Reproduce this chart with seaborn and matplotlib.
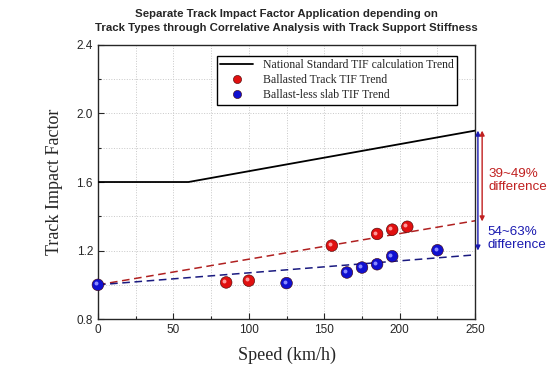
"""
Track impact factor vs speed: national standard vs ballasted / ballast-less
"""
import matplotlib
matplotlib.use('Agg')
import matplotlib.pyplot as plt
import pandas as pd
import seaborn as sns
from matplotlib.ticker import MultipleLocator

plt_colors = {'Ballasted Track TIF Trend': '#e01010',
              'Ballast-less slab TIF Trend': '#1010d0'}

# national standard TIF line
std_speed = [0, 60, 250]
std_tif = [1.6, 1.6, 1.9]

# measured points
ballasted_speed = [85, 100, 155, 185, 195, 205]
ballasted_tif = [1.014, 1.024, 1.229, 1.297, 1.322, 1.339]
slab_speed = [0, 125, 165, 175, 185, 195, 225]
slab_tif = [1.0, 1.01, 1.072, 1.101, 1.12, 1.167, 1.202]

# dashed trend lines
trend_speed = [0, 250]
ballasted_trend = [1.0, 1.374]
slab_trend = [1.0, 1.175]

pts = pd.concat([
    pd.DataFrame({'speed': ballasted_speed, 'tif': ballasted_tif,
                  'track': 'Ballasted Track TIF Trend'}),
    pd.DataFrame({'speed': slab_speed, 'tif': slab_tif,
                  'track': 'Ballast-less slab TIF Trend'}),
])

sns.set_style('ticks')
plt.rcParams['font.family'] = ['Liberation Sans', 'DejaVu Sans']

fig = plt.figure(figsize=(5.5, 3.84), dpi=100)
ax = fig.add_axes([0.178, 0.169, 0.686, 0.714])

sns.lineplot(x=trend_speed, y=ballasted_trend, color='#b02020', lw=1.1,
             linestyle=(0, (5, 3)), ax=ax, zorder=2)
sns.lineplot(x=trend_speed, y=slab_trend, color='#1a1a80', lw=1.1,
             linestyle=(0, (5, 3)), ax=ax, zorder=2)
sns.lineplot(x=std_speed, y=std_tif, color='black', lw=1.3, ax=ax,
             label='National Standard TIF calculation Trend', zorder=3)
sns.scatterplot(pts, x='speed', y='tif', hue='track', palette=plt_colors,
                s=70, edgecolor='#400000', linewidth=0.4, ax=ax, zorder=4,
                clip_on=False)
# highlight to fake the shaded spheres
ax.scatter([x - 1.2 for x in ballasted_speed], [y + 0.008 for y in ballasted_tif],
           s=8, color='#ff9a9a', linewidth=0, zorder=5)
ax.scatter([x - 1.2 for x in slab_speed], [y + 0.008 for y in slab_tif],
           s=8, color='#8a8aff', linewidth=0, zorder=5, clip_on=False)

ax.set_xlim(0, 250)
ax.set_ylim(0.8, 2.4)
ax.xaxis.set_major_locator(MultipleLocator(50))
ax.xaxis.set_minor_locator(MultipleLocator(25))
ax.yaxis.set_major_locator(MultipleLocator(0.4))
ax.yaxis.set_minor_locator(MultipleLocator(0.2))
ax.tick_params(which='both', direction='in', labelsize=8.5, width=0.8)
ax.tick_params(which='major', length=4)
ax.tick_params(which='minor', length=2.5)
ax.grid(which='both', color='#c8c8c8', linestyle=':', linewidth=0.7)
ax.set_axisbelow(True)
for s in ax.spines.values():
    s.set_linewidth(1.0)

ax.set_xlabel('Speed (km/h)', family='Liberation Serif', fontsize=13, labelpad=8)
ax.set_ylabel('Track Impact Factor', family='Liberation Serif', fontsize=13,
              labelpad=10)
ax.set_title('Separate Track Impact Factor Application depending on\n'
             'Track Types through Correlative Analysis with Track Support Stiffness',
             fontsize=8.2, fontweight='bold', pad=10, linespacing=1.45)

leg = ax.legend(loc='upper left', bbox_to_anchor=(0.315, 0.96),
                prop={'family': 'Liberation Serif', 'size': 8.5},
                frameon=True, fancybox=False, edgecolor='black',
                borderpad=0.3, labelspacing=0.25, handlelength=2.8,
                borderaxespad=0, markerscale=0.7)
leg.get_frame().set_linewidth(1.0)
leg.get_frame().set_alpha(1)

# difference arrows outside the axes
ax.annotate('', xy=(251.8, 1.2), xytext=(251.8, 1.9),
            arrowprops=dict(arrowstyle='<|-|>', color='#1a1ab0', lw=1.0,
                            mutation_scale=7, shrinkA=0, shrinkB=0),
            annotation_clip=False)
ax.annotate('', xy=(254.6, 1.37), xytext=(254.6, 1.9),
            arrowprops=dict(arrowstyle='<|-|>', color='#c02020', lw=1.0,
                            mutation_scale=7, shrinkA=0, shrinkB=0),
            annotation_clip=False)
ax.text(259, 1.61, '39~49%\ndifference', color='#c02020', fontsize=9.6,
        va='center', ha='left', linespacing=1.15, clip_on=False)
ax.text(258, 1.27, '54~63%\ndifference', color='#1a1ab0', fontsize=9.6,
        va='center', ha='left', linespacing=1.15, clip_on=False)

fig.savefig('out.png', dpi=100)
